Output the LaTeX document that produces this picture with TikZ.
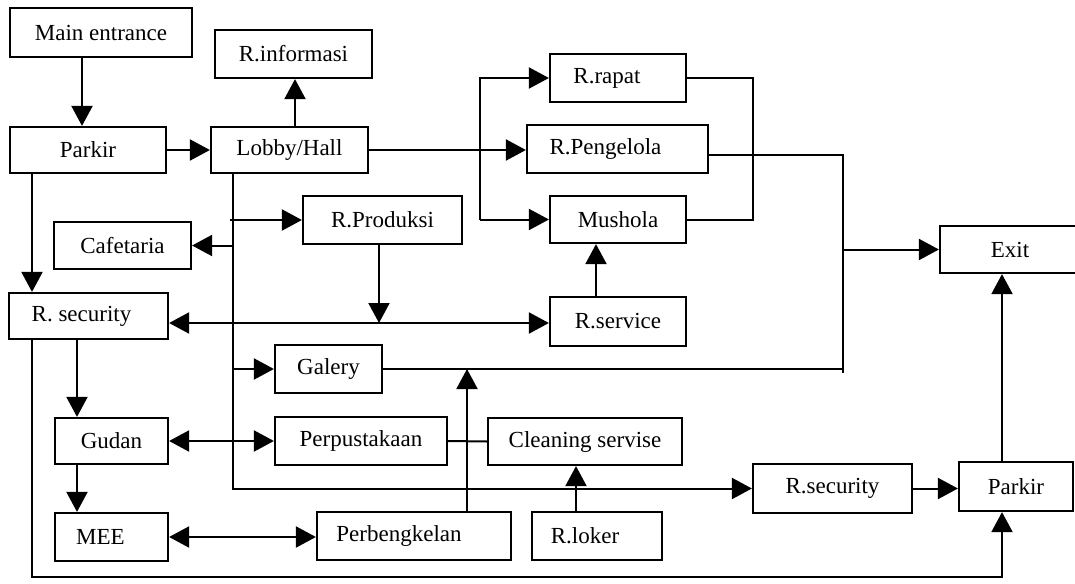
\documentclass[tikz,border=0pt]{standalone}
\usepackage{fontspec}
\setmainfont{Liberation Serif}
\usetikzlibrary{arrows.meta}
\begin{document}
\begin{tikzpicture}[x=0.5pt,y=-0.5pt,
  box/.style={draw,line width=1.1pt,inner sep=0pt,
    font=\fontsize{11.5}{13}\selectfont},
  sz/.style 2 args={minimum width=#1*0.5pt,minimum height=#2*0.5pt},
  link/.style={line width=1pt},
  arr/.style={link,-{Triangle[length=10pt,width=10.5pt]}},
  arr2/.style={link,{Triangle[length=10pt,width=10.5pt]}-{Triangle[length=10pt,width=10.5pt]}}]
\useasboundingbox (0,0) rectangle (1075,583);

% rooms
\node[box,sz={182}{49}] (main)     at (101,32.5)  {Main entrance};
\node[box,sz={157}{48}] (info)     at (293.5,54)  {R.informasi};
\node[box,sz={156}{46}] (parkir1)  at (88,150)    {Parkir};
\node[box,sz={157}{46}] (lobby)    at (289.5,150) {Lobby/Hall};
\node[box,sz={136}{48}] (rapat)    at (618,78)    {\hspace*{-11pt}R.rapat};
\node[box,sz={181}{48}] (pengelola) at (617.5,149) {\hspace*{-12pt}R.Pengelola};
\node[box,sz={136}{47}] (mushola)  at (618,219.5) {Mushola};
\node[box,sz={159}{48}] (produksi) at (382.5,220) {R.Produksi};
\node[box,sz={137}{47}] (cafe)     at (122.5,245.5) {Cafetaria};
\node[box,sz={159}{46}] (sec1)     at (88.5,316)  {\hspace*{-7pt}R. security};
\node[box,sz={136}{49}] (service)  at (618,321.5) {R.service};
% the exit box runs on past the right border
\node[box,sz={170}{47}] (exit)     at (1025,249.5) {\hspace*{-15pt}Exit};
\node[box,sz={107}{48}] (galery)   at (328.5,369) {Galery};
\node[box,sz={172}{48}] (perpus)   at (361,441)   {Perpustakaan};
\node[box,sz={194}{47}] (cleaning) at (585,441.5) {Cleaning servise};
\node[box,sz={113}{46}] (gudan)    at (111.5,441) {Gudan};
\node[box,sz={159}{49}] (sec2)     at (832.5,488.5) {R.security};
\node[box,sz={114}{49}] (parkir2)  at (1016,486.5) {Parkir};
\node[box,sz={113}{48}] (mee)      at (111.5,537) {\hspace*{-11pt}MEE};
\node[box,sz={194}{48}] (bengkel)  at (414,536)   {\hspace*{-15pt}Perbengkelan};
\node[box,sz={130}{48}] (loker)    at (597,536)   {\hspace*{-12pt}R.loker};

% entrance and lobby
\draw[arr] (82,0 |- main.south) -- (82,0 |- parkir1.north);
\draw[arr] (parkir1.east) -- (parkir1.east -| lobby.west);
\draw[arr] (295,0 |- lobby.north) -- (295,0 |- info.south);
\draw[arr] (lobby.east) -- (lobby.east -| pengelola.west);

% office branch
\draw[arr] (480,0 |- mushola.west) |- (rapat.west);
\draw[arr] (480,0 |- mushola.west) -- (mushola.west);
\draw[link] (rapat.east) -| (753,0 |- mushola.east) -- (mushola.east);

% way out
\draw[link] ([yshift=-3pt]pengelola.east) -- (843,155) -- (843,373);
\draw[link] (galery.east) -- (843,0 |- galery.east);
\draw[arr] (843,0 |- exit.west) -- (exit.west);
\draw[arr] (1002,0 |- parkir2.north) -- (1002,0 |- exit.south);

% lobby spine
\draw[arr] (233,0 |- lobby.south) |- (sec2.west);
\draw[arr] (230,0 |- produksi.west) -- (produksi.west);
\draw[arr] (233,0 |- cafe.east) -- (cafe.east);
\draw[arr] (233,0 |- galery.west) -- (galery.west);

% production and service
\draw[arr] (379,0 |- produksi.south) -- (379,323);
\draw[arr2] (sec1.east |- 0,323) -- (service.west |- 0,323);
\draw[arr] (596,0 |- service.north) -- (596,0 |- mushola.south);

% service rooms
\draw[arr2] (gudan.east) -- (perpus.west);
\draw[link] (perpus.east) -- (cleaning.west);
\draw[arr] (467,0 |- bengkel.north) -- (467,0 |- galery.east);
\draw[arr] (576,0 |- loker.north) -- (576,0 |- cleaning.south);
\draw[arr2] (mee.east) -- (mee.east -| bengkel.west);
\draw[arr] (sec2.east) -- (sec2.east -| parkir2.west);

% security and storage
\draw[arr] (32,0 |- parkir1.south) -- (32,0 |- sec1.north);
\draw[arr] (77,0 |- sec1.south) -- (77,0 |- gudan.north);
\draw[arr] (77,0 |- gudan.south) -- (77,0 |- mee.north);
\draw[arr] (32,0 |- sec1.south) |- (1002,577) -- (1002,0 |- parkir2.south);
\end{tikzpicture}
\end{document}
